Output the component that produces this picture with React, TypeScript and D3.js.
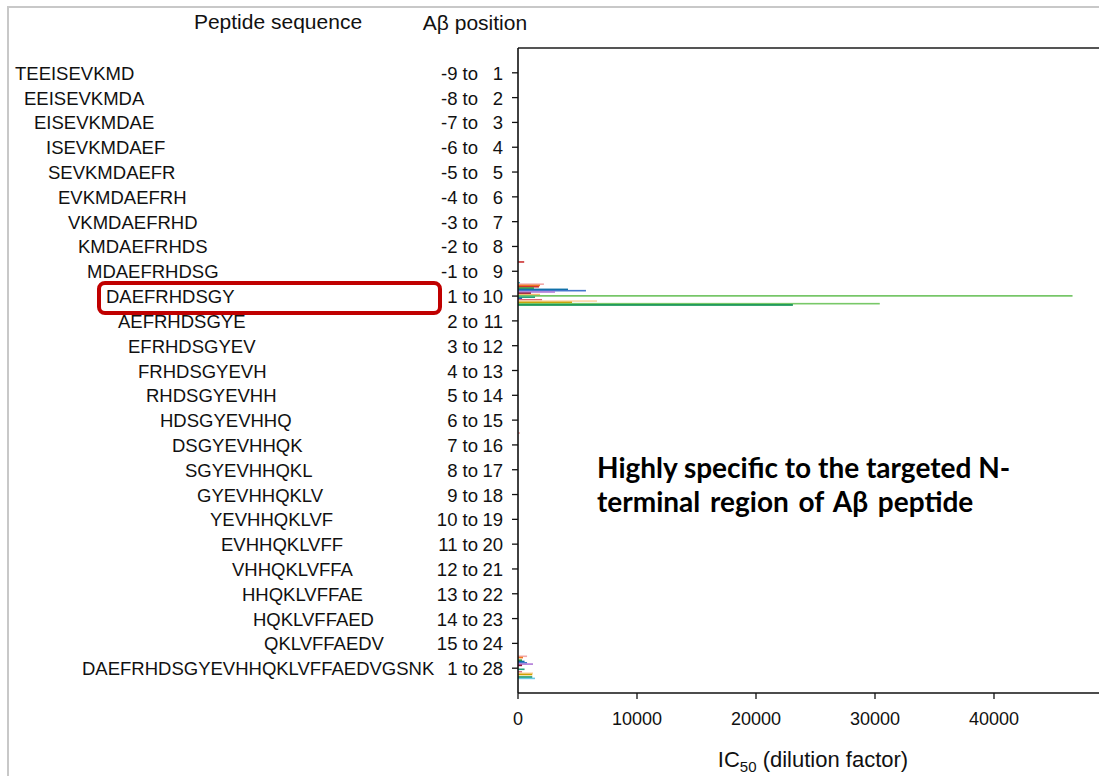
import React from 'react';
import * as d3 from 'd3';

// ---------- data ----------
const peptides: string[] = [
  'TEEISEVKMD', 'EEISEVKMDA', 'EISEVKMDAE', 'ISEVKMDAEF', 'SEVKMDAEFR',
  'EVKMDAEFRH', 'VKMDAEFRHD', 'KMDAEFRHDS', 'MDAEFRHDSG', 'DAEFRHDSGY',
  'AEFRHDSGYE', 'EFRHDSGYEV', 'FRHDSGYEVH', 'RHDSGYEVHH', 'HDSGYEVHHQ',
  'DSGYEVHHQK', 'SGYEVHHQKL', 'GYEVHHQKLV', 'YEVHHQKLVF', 'EVHHQKLVFF',
  'VHHQKLVFFA', 'HHQKLVFFAE', 'HQKLVFFAED', 'QKLVFFAEDV',
  'DAEFRHDSGYEVHHQKLVFFAEDVGSNK',
];
const posStart: number[] = [-9, -8, -7, -6, -5, -4, -3, -2, -1, 1, 2, 3, 4, 5, 6, 7, 8, 9, 10, 11, 12, 13, 14, 15, 1];
const posEnd: number[] = [1, 2, 3, 4, 5, 6, 7, 8, 9, 10, 11, 12, 13, 14, 15, 16, 17, 18, 19, 20, 21, 22, 23, 24, 28];

const xTicks: number[] = [0, 10000, 20000, 30000, 40000];

const seriesColors: string[] = [
  '#2ab0c8', '#f2a8a8', '#f07820', '#cc3333', '#33a02c', '#0a6fa5', '#4477cc',
  '#b07ad8', '#8c1038', '#f5b870', '#6cc25c', '#22a07a', '#3355bb', '#d86878',
  '#fdd5a5', '#cfa000', '#78c868', '#008c48', '#6cc8e8',
];

// IC50 values (dilution factor) per series, for the rows that show binding
const ic50_m1to9: number[] = [0, 0, 0, 520, 0, 0, 0, 0, 0, 0, 0, 0, 0, 0, 0, 0, 0, 0, 0];
const ic50_1to10: number[] = [170, 2180, 1850, 1760, 1340, 4200, 5710, 3110, 1090, 1850, 46600, 1430, 340, 2020, 6640, 4540, 30400, 23100, 0];
const ic50_7to16: number[] = [0, 170, 0, 0, 0, 0, 0, 0, 0, 0, 0, 0, 0, 0, 0, 0, 0, 0, 0];
const ic50_1to28: number[] = [0, 760, 420, 0, 340, 550, 760, 1260, 340, 0, 0, 550, 0, 340, 1260, 1200, 0, 1200, 1430];
const activeRows: { label: string; values: number[] }[] = [
  { label: '-1 to 9', values: ic50_m1to9 },
  { label: '1 to 10', values: ic50_1to10 },
  { label: '7 to 16', values: ic50_7to16 },
  { label: '1 to 28', values: ic50_1to28 },
];

// ---------- layout ----------
const W = 1099;
const H = 776;
const plotLeft = 518;
const plotTop = 48;
const plotBottom = 693;
const labelIndent: number[] = [15, 24, 34, 46, 48, 58, 68, 78, 87, 106, 118, 128, 138, 146, 160, 172, 185, 197, 210, 221, 232, 242, 253, 264, 82];

export default function App() {
  const rowKeys = posStart.map((s, i) => `${s} to ${posEnd[i]}`);
  const y = d3.scaleLinear().domain([0, rowKeys.length + 1]).range([plotTop, plotBottom]);
  const pxPerUnit = 0.0119;
  const x = d3.scaleLinear().domain([0, 50000]).range([plotLeft, plotLeft + 50000 * pxPerUnit]);
  const barStep = 1.3;
  const barH = 1.6;

  const font = "'Liberation Sans', Arial, sans-serif";
  const annFont = "Lato, 'Open Sans', sans-serif";

  return (
    <svg width={W} height={H} style={{ position: 'absolute', left: 0, top: 0, background: '#fff' }}>
      <rect x={0} y={0} width={W} height={H} fill="#fff" />
      <rect x={8} y={7} width={1300} height={1000} fill="none" stroke="#c8c8c8" strokeWidth={2} />

      {/* headers */}
      <text x={278} y={29} fontFamily={font} fontSize={21} textAnchor="middle" fill="#111">Peptide sequence</text>
      <text x={475} y={30} fontFamily={font} fontSize={21} textAnchor="middle" fill="#111">Aβ position</text>

      {/* row labels */}
      {rowKeys.map((k, i) => {
        const cy = y(i + 1);
        return (
          <g key={k}>
            <text x={labelIndent[i]} y={cy + 7} fontFamily={font} fontSize={18.5} fill="#111">{peptides[i]}</text>
            <text x={478} y={cy + 7} fontFamily={font} fontSize={18.5} textAnchor="end" fill="#111">{`${posStart[i]} to`}</text>
            <text x={503} y={cy + 7} fontFamily={font} fontSize={18.5} textAnchor="end" fill="#111">{posEnd[i]}</text>
            <line x1={plotLeft - 6} x2={plotLeft} y1={cy} y2={cy} stroke="#111" strokeWidth={1.3} />
          </g>
        );
      })}

      {/* bars */}
      {activeRows.map((r) => {
        const ri = rowKeys.indexOf(r.label);
        const cy = y(ri + 1);
        return (
          <g key={r.label}>
            {r.values.map((v, s) =>
              v > 0 ? (
                <rect key={s} x={x(0)} y={cy - 14 + s * barStep} width={x(v) - x(0)} height={barH} fill={seriesColors[s]} />
              ) : null
            )}
          </g>
        );
      })}

      {/* frame / axes */}
      <line x1={plotLeft} x2={W} y1={plotTop} y2={plotTop} stroke="#555" strokeWidth={1.8} />
      <line x1={plotLeft} x2={plotLeft} y1={plotTop} y2={plotBottom} stroke="#111" strokeWidth={1.6} />
      <line x1={plotLeft} x2={W} y1={plotBottom} y2={plotBottom} stroke="#111" strokeWidth={1.6} />
      {xTicks.map((t) => (
        <g key={t}>
          <line x1={x(t)} x2={x(t)} y1={plotBottom} y2={plotBottom + 6} stroke="#111" strokeWidth={1.3} />
          <text x={x(t)} y={725} fontFamily={font} fontSize={18} textAnchor="middle" fill="#111">{t}</text>
        </g>
      ))}
      <text x={813} y={767} fontFamily={font} fontSize={22} textAnchor="middle" fill="#111">
        IC<tspan fontSize={15} dy={5}>50</tspan><tspan dy={-5}> (dilution factor)</tspan>
      </text>

      {/* highlight box */}
      <rect x={99} y={283} width={341} height={30} rx={6} fill="none" stroke="#c00000" strokeWidth={4} />

      {/* annotation */}
      <text x={597} y={478} fontFamily={annFont} fontWeight={700} fontSize={28} fill="#000">Highly specific to the targeted N-</text>
      <text x={597} y={512} fontFamily={annFont} fontWeight={700} fontSize={28} fill="#000" wordSpacing={3}>terminal region of Aβ peptide</text>
    </svg>
  );
}
